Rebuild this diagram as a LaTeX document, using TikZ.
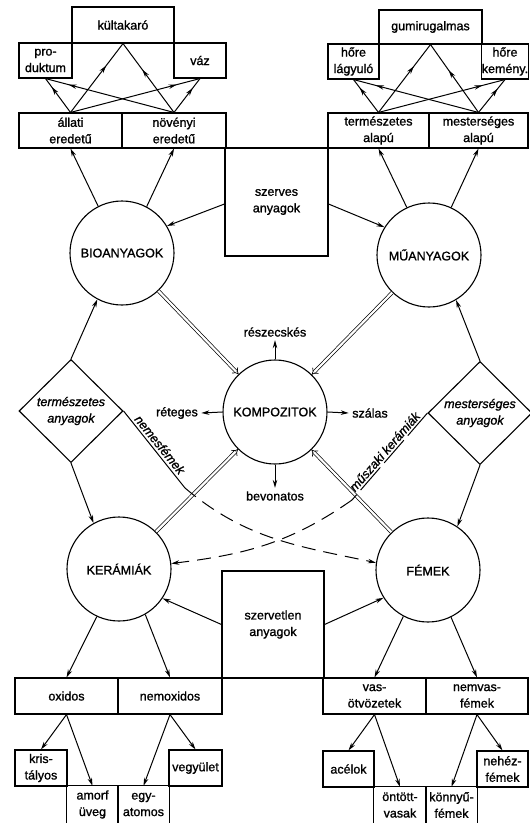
\documentclass[tikz,border=0pt]{standalone}
\usepackage{fontspec}
\setmainfont{Liberation Sans}[FakeBold=1.2]
\usetikzlibrary{arrows.meta,shapes.geometric,decorations.markings}
\begin{document}
\begin{tikzpicture}[x=1pt,y=1pt,
  every node/.style={font=\fontsize{12.5}{16.5}\selectfont},
  box/.style={draw, line width=1.1pt, inner sep=0pt, align=center},
  obox/.style={inner sep=0pt, align=center},
  ring/.style={draw, circle, line width=1.1pt, minimum size=104pt, inner sep=0pt},
  rhomb/.style={draw, diamond, line width=1.1pt, minimum width=104pt, minimum height=103pt, inner sep=0pt, align=center, font=\itshape\fontsize{12.5}{16.5}\selectfont},
  arr/.style={line width=1pt, -{Stealth[length=8pt,width=4.5pt]}},
  dbl/.style={double, double distance=2.2pt, line width=0.7pt, -{Implies}},
  midarr/.style={line width=1pt, postaction={decorate}, decoration={markings, mark=at position #1 with {\arrow{Stealth[length=8pt,width=4.5pt]}}}},
  dashy/.style={line width=1pt, dash pattern=on 14pt off 8pt},
  lbl/.style={font=\itshape\fontsize{12.5}{15}\selectfont, inner sep=0pt},
]
\useasboundingbox (0,0) rectangle (530,-823);

% ---------- top left ----------
\node[box, minimum width=102pt, minimum height=36pt] (kult) at (123,-25) {kültakaró};
\node[box, minimum width=53pt, minimum height=35pt] (prod) at (45.5,-60.5) {pro-\\duktum};
\node[box, minimum width=52pt, minimum height=35pt] (vaz) at (200,-60.5) {váz};
\node[box, minimum width=103pt, minimum height=35pt] (allati) at (70.5,-130.5) {állati\\eredetű};
\node[box, minimum width=104pt, minimum height=35pt] (noveny) at (174,-130.5) {növényi\\eredetű};
\node[box, minimum width=103pt, minimum height=108pt] (szerves) at (276.5,-202) {szerves\\anyagok};

% ---------- top right ----------
\node[box, minimum width=103pt, minimum height=34pt] (gumi) at (430.5,-27) {gumirugalmas};
\node[box, minimum width=51pt, minimum height=35pt] (lagy) at (353.5,-61.5) {hőre\\lágyuló};
\node[box, minimum width=46pt, minimum height=35pt] (kemeny) at (505,-61.5) {hőre\\kemény.};
\node[box, minimum width=101pt, minimum height=35pt] (termalap) at (378.5,-130.5) {természetes\\alapú};
\node[box, minimum width=99pt, minimum height=35pt] (mestalap) at (478.5,-130.5) {mesterséges\\alapú};

\draw[line width=1.1pt] (allati.south west) -- (mestalap.south east);

% ---------- circles ----------
\node[ring] (bio) at (122,-253) {BIOANYAGOK};
\node[ring] (mu) at (429,-255) {MŰANYAGOK};
\node[ring] (komp) at (275,-412) {KOMPOZITOK};
\node[ring] (ker) at (119,-569) {KERÁMIÁK};
\node[ring] (fem) at (428,-570) {FÉMEK};

% ---------- diamonds ----------
\node[rhomb] (dia1) at (71,-411) {természetes\\anyagok};
\node[rhomb] (dia2) at (480,-413) {mesterséges\\anyagok};

% ---------- composite labels ----------
\node (resz) at (275,-332) {részecskés};
\node (reteges) at (177,-413) {réteges};
\node (szalas) at (370,-413) {szálas};
\node (bevon) at (275,-496) {bevonatos};

% ---------- bottom left ----------
\node[box, minimum width=102pt, minimum height=107pt] (szervetlen) at (273,-624.5) {szervetlen\\anyagok};
\node[box, minimum width=103pt, minimum height=36pt] (oxidos) at (66.5,-696) {oxidos};
\node[box, minimum width=104pt, minimum height=36pt] (nemox) at (170,-696) {nemoxidos};
\node[box, minimum width=52pt, minimum height=36pt] (krist) at (41,-768) {kris-\\tályos};
\node[obox, minimum width=51pt, minimum height=37pt] (amorf) at (92.5,-804.5) {amorf\\üveg};
\node[obox, minimum width=51pt, minimum height=37pt] (egy) at (143.5,-804.5) {egy-\\atomos};
\node[box, minimum width=53pt, minimum height=36pt] (vegy) at (195.5,-768) {vegyület};

% ---------- bottom right ----------
\node[box, minimum width=103pt, minimum height=36pt] (vas) at (374.5,-696) {vas-\\ötvözetek};
\node[box, minimum width=102pt, minimum height=36pt] (nemvas) at (477,-696) {nemvas-\\fémek};
\node[box, minimum width=51pt, minimum height=36pt] (acel) at (348.5,-769) {acélok};
\node[obox, minimum width=52pt, minimum height=36pt] (ontott) at (400,-805) {öntött-\\vasak};
\node[obox, minimum width=51pt, minimum height=36pt] (konnyu) at (451.5,-805) {könnyű-\\fémek};
\node[box, minimum width=51pt, minimum height=36pt] (nehez) at (502.5,-769) {nehéz-\\fémek};

\draw[line width=1.1pt] (oxidos.north west) -- (nemvas.north east);
\foreach \b in {amorf,egy,ontott,konnyu}
  \draw[line width=1.1pt] (\b.south west) -- (\b.north west) -- (\b.north east) -- (\b.south east);

% ---------- top arrows ----------
\draw[midarr=0.75] (allati.north) -- (prod.south);
\draw[midarr=0.68] (allati.north) -- (kult.south);
\draw[midarr=0.82] (allati.north) -- (vaz.south);
\draw[midarr=0.82] (noveny.north) -- (prod.south);
\draw[midarr=0.62] (noveny.north) -- (kult.south);
\draw[midarr=0.72] (noveny.north) -- (vaz.south);

\draw[midarr=0.75] (termalap.north) -- (lagy.south);
\draw[midarr=0.68] (termalap.north) -- (gumi.south);
\draw[midarr=0.82] (termalap.north) -- (kemeny.south);
\draw[midarr=0.82] (mestalap.north) -- (lagy.south);
\draw[midarr=0.62] (mestalap.north) -- (gumi.south);
\draw[midarr=0.72] (mestalap.north) -- (kemeny.south);

% ---------- circle arrows ----------
\draw[arr] (bio.117) -- (allati.south);
\draw[arr] (bio.62) -- (noveny.south);
\draw[arr] (mu.115) -- (termalap.south);
\draw[arr] (mu.65) -- (mestalap.south);
\draw[arr] ([yshift=-2pt]szerves.west) -- (bio.31);
\draw[arr] ([yshift=-2pt]szerves.east) -- (mu.148);

\draw[arr] (dia1.north) -- (bio.242);
\draw[arr] (dia1.south) -- (ker.119);
\draw[arr] (dia2.north) -- (mu.301);
\draw[arr] (dia2.south) -- (fem.56);

\draw[dbl] (bio) -- (komp);
\draw[dbl] (mu) -- (komp);
\draw[dbl] (ker) -- (komp);
\draw[dbl] (fem) -- (komp);

\draw[arr] (komp.north) -- (resz.south);
\draw[arr] (komp.west) -- (reteges.east);
\draw[arr] (komp.east) -- (szalas.west);
\draw[arr] (komp.south) -- (bevon.north);

\draw[arr] (szervetlen.west) -- (ker.-34);
\draw[arr] (szervetlen.east) -- (fem.212);

\draw[arr] (ker.245) -- (oxidos.north);
\draw[arr] (ker.300) -- (nemox.north);
\draw[arr] (fem.242) -- (vas.north);
\draw[arr] (fem.296) -- (nemvas.north);

\draw[arr] (oxidos.south) -- (krist.north);
\draw[arr] (oxidos.south) -- (amorf.north);
\draw[arr] (nemox.south) -- (egy.north);
\draw[arr] (nemox.south) -- (vegy.north);
\draw[arr] (vas.south) -- (acel.north);
\draw[arr] (vas.south) -- (ontott.north);
\draw[arr] (nemvas.south) -- (konnyu.north);
\draw[arr] (nemvas.south) -- (nehez.north);

% ---------- dashed crossings ----------
\coordinate (p1) at (185,-488);
\coordinate (p2) at (352,-500);
\draw[line width=1pt] (dia1.east) -- (p1);
\node[lbl, rotate=-51, anchor=base] (nemes) at (156.5,-447.5) {nemesfémek};
\draw[dashy, -{Stealth[length=8pt,width=4.5pt]}] (p1) to[out=-40,in=168] (fem.172);
\draw[line width=1pt, dash pattern=on 30pt off 6pt] (dia2.west) -- (p2);
\node[lbl, rotate=49, anchor=base] (muszaki) at (388,-454.5) {műszaki kerámiák};
\draw[dashy, -{Stealth[length=8pt,width=4.5pt]}] (p2) to[out=-145,in=7] (ker.6);
\end{tikzpicture}
\end{document}
